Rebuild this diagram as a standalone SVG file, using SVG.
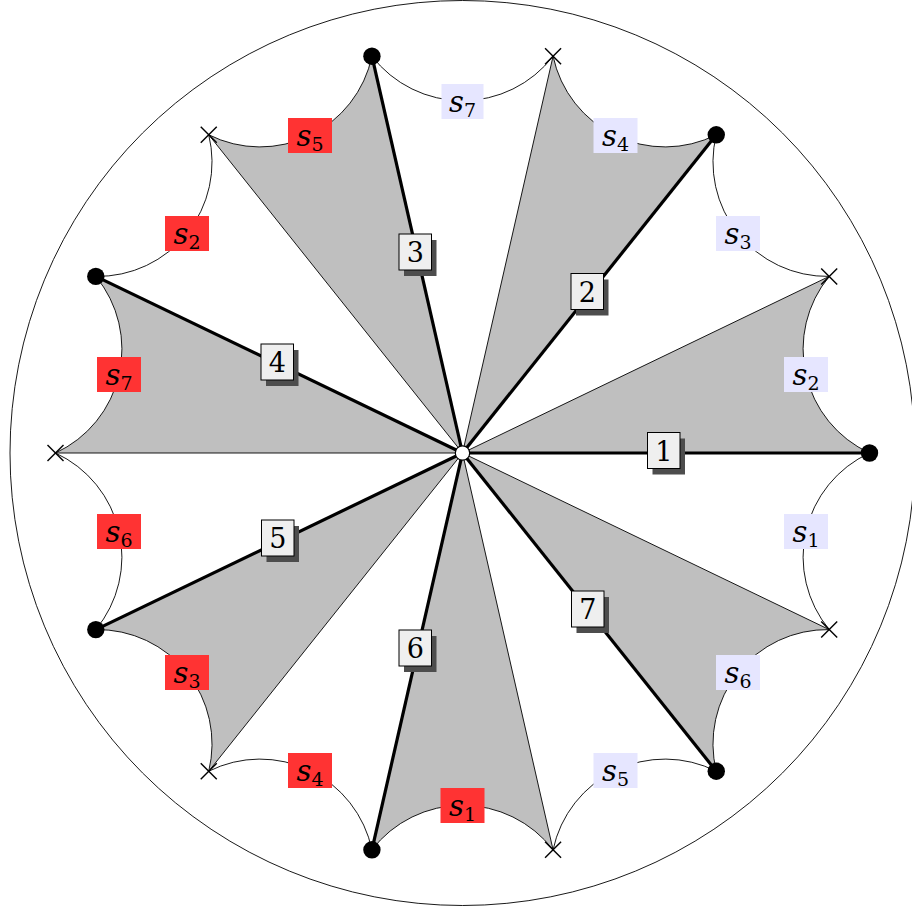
<svg xmlns="http://www.w3.org/2000/svg" width="912" height="911" viewBox="0 0 912 911">
<style>
.shade{fill:#bfbfbf;stroke:none}
.arc{fill:none;stroke:#000;stroke-width:0.9}
.thin{stroke:#000;stroke-width:0.9}
.thick{stroke:#000;stroke-width:3.2}
.dot{fill:#000}
.cross{stroke:#000;stroke-width:1.4}
.red{fill:#ff3333}
.blue{fill:#e6e6ff}
.lbl{font-family:"DejaVu Serif","Liberation Serif",serif;font-size:29px;fill:#000}
.lbl .s{font-style:italic}
.lbl .sub{font-size:19px;font-style:normal}
.nbox{fill:#efefef;stroke:#000;stroke-width:1}
.shadow{fill:#4d4d4d}
.num{font-family:"DejaVu Serif","Liberation Serif",serif;font-size:27px;fill:#000;text-anchor:middle}
</style>
<defs>
<g id="crossmark"><line class="cross" x1="-8" y1="-8" x2="8" y2="8"/><line class="cross" x1="-8" y1="8" x2="8" y2="-8"/></g>
</defs>
<rect width="912" height="911" fill="#fff"/>
<circle cx="462.5" cy="453" r="452.5" fill="none" stroke="#000" stroke-width="0.9"/>
<g id="regions">
<path class="shade" d="M462.5,453 L869.5,453 A114.4,114.4 0 0 1 829.19,276.41 Z"/>
<path class="shade" d="M462.5,453 L716.26,134.79 A114.4,114.4 0 0 1 553.07,56.2 Z"/>
<path class="shade" d="M462.5,453 L371.93,56.2 A114.4,114.4 0 0 1 208.74,134.79 Z"/>
<path class="shade" d="M462.5,453 L95.81,276.41 A114.4,114.4 0 0 1 55.5,453 Z"/>
<path class="shade" d="M462.5,453 L95.81,629.59 A114.4,114.4 0 0 1 208.74,771.21 Z"/>
<path class="shade" d="M462.5,453 L371.93,849.8 A114.4,114.4 0 0 1 553.07,849.8 Z"/>
<path class="shade" d="M462.5,453 L716.26,771.21 A114.4,114.4 0 0 1 829.19,629.59 Z"/>
</g>
<g id="connectors">
<path class="arc" d="M869.5,453 A114.4,114.4 0 0 1 829.19,276.41 A114.4,114.4 0 0 1 716.26,134.79 A114.4,114.4 0 0 1 553.07,56.2 A114.4,114.4 0 0 1 371.93,56.2 A114.4,114.4 0 0 1 208.74,134.79 A114.4,114.4 0 0 1 95.81,276.41 A114.4,114.4 0 0 1 55.5,453 A114.4,114.4 0 0 1 95.81,629.59 A114.4,114.4 0 0 1 208.74,771.21 A114.4,114.4 0 0 1 371.93,849.8 A114.4,114.4 0 0 1 553.07,849.8 A114.4,114.4 0 0 1 716.26,771.21 A114.4,114.4 0 0 1 829.19,629.59 A114.4,114.4 0 0 1 869.5,453"/>
<line class="thin" x1="462.5" y1="453" x2="829.19" y2="276.41"/>
<line class="thin" x1="462.5" y1="453" x2="553.07" y2="56.2"/>
<line class="thin" x1="462.5" y1="453" x2="208.74" y2="134.79"/>
<line class="thin" x1="462.5" y1="453" x2="55.5" y2="453"/>
<line class="thin" x1="462.5" y1="453" x2="208.74" y2="771.21"/>
<line class="thin" x1="462.5" y1="453" x2="553.07" y2="849.8"/>
<line class="thin" x1="462.5" y1="453" x2="829.19" y2="629.59"/>
<line class="thick" x1="462.5" y1="453" x2="869.5" y2="453"/>
<line class="thick" x1="462.5" y1="453" x2="716.26" y2="134.79"/>
<line class="thick" x1="462.5" y1="453" x2="371.93" y2="56.2"/>
<line class="thick" x1="462.5" y1="453" x2="95.81" y2="276.41"/>
<line class="thick" x1="462.5" y1="453" x2="95.81" y2="629.59"/>
<line class="thick" x1="462.5" y1="453" x2="371.93" y2="849.8"/>
<line class="thick" x1="462.5" y1="453" x2="716.26" y2="771.21"/>
</g>
<g id="edge-labels">
<g id="lb0"><rect class="blue" x="784" y="357" width="44" height="35"/><text class="lbl" x="806" y="385" text-anchor="middle"><tspan class="s">s</tspan><tspan class="sub" dy="5">2</tspan></text></g>
<g id="lb1"><rect class="blue" x="716" y="216" width="44" height="35"/><text class="lbl" x="738" y="244" text-anchor="middle"><tspan class="s">s</tspan><tspan class="sub" dy="5">3</tspan></text></g>
<g id="lb2"><rect class="blue" x="593.5" y="118" width="44" height="35"/><text class="lbl" x="615.5" y="146" text-anchor="middle"><tspan class="s">s</tspan><tspan class="sub" dy="5">4</tspan></text></g>
<g id="lb3"><rect class="blue" x="441.5" y="84" width="42" height="35"/><text class="lbl" x="462.5" y="112" text-anchor="middle"><tspan class="s">s</tspan><tspan class="sub" dy="5">7</tspan></text></g>
<g id="lb4"><rect class="red" x="288" y="118" width="44" height="35"/><text class="lbl" x="310" y="146" text-anchor="middle"><tspan class="s">s</tspan><tspan class="sub" dy="5">5</tspan></text></g>
<g id="lb5"><rect class="red" x="165" y="216" width="44" height="35"/><text class="lbl" x="187" y="244" text-anchor="middle"><tspan class="s">s</tspan><tspan class="sub" dy="5">2</tspan></text></g>
<g id="lb6"><rect class="red" x="97" y="357" width="44" height="35"/><text class="lbl" x="119" y="385" text-anchor="middle"><tspan class="s">s</tspan><tspan class="sub" dy="5">7</tspan></text></g>
<g id="lb7"><rect class="red" x="97" y="514" width="44" height="35"/><text class="lbl" x="119" y="542" text-anchor="middle"><tspan class="s">s</tspan><tspan class="sub" dy="5">6</tspan></text></g>
<g id="lb8"><rect class="red" x="165" y="655" width="44" height="35"/><text class="lbl" x="187" y="683" text-anchor="middle"><tspan class="s">s</tspan><tspan class="sub" dy="5">3</tspan></text></g>
<g id="lb9"><rect class="red" x="288" y="753" width="44" height="35"/><text class="lbl" x="310" y="781" text-anchor="middle"><tspan class="s">s</tspan><tspan class="sub" dy="5">4</tspan></text></g>
<g id="lb10"><rect class="red" x="440.5" y="788" width="44" height="35"/><text class="lbl" x="462.5" y="816" text-anchor="middle"><tspan class="s">s</tspan><tspan class="sub" dy="5">1</tspan></text></g>
<g id="lb11"><rect class="blue" x="593.5" y="753" width="44" height="35"/><text class="lbl" x="615.5" y="781" text-anchor="middle"><tspan class="s">s</tspan><tspan class="sub" dy="5">5</tspan></text></g>
<g id="lb12"><rect class="blue" x="716" y="655" width="44" height="35"/><text class="lbl" x="738" y="683" text-anchor="middle"><tspan class="s">s</tspan><tspan class="sub" dy="5">6</tspan></text></g>
<g id="lb13"><rect class="blue" x="784" y="514" width="44" height="35"/><text class="lbl" x="806" y="542" text-anchor="middle"><tspan class="s">s</tspan><tspan class="sub" dy="5">1</tspan></text></g>
</g>
<g id="number-labels">
<g id="n1"><rect class="shadow" x="652.5" y="438.5" width="32.5" height="36"/><rect class="nbox" x="647.5" y="432.5" width="32.5" height="36"/><text class="num" x="663.75" y="460.5">1</text></g>
<g id="n2"><rect class="shadow" x="576" y="279.5" width="32.5" height="36"/><rect class="nbox" x="571" y="273.5" width="32.5" height="36"/><text class="num" x="587.25" y="301.5">2</text></g>
<g id="n3"><rect class="shadow" x="404" y="240" width="32.5" height="36"/><rect class="nbox" x="399" y="234" width="32.5" height="36"/><text class="num" x="415.25" y="262">3</text></g>
<g id="n4"><rect class="shadow" x="266" y="350" width="32.5" height="36"/><rect class="nbox" x="261" y="344" width="32.5" height="36"/><text class="num" x="277.25" y="372">4</text></g>
<g id="n5"><rect class="shadow" x="266.5" y="526" width="32.5" height="36"/><rect class="nbox" x="261.5" y="520" width="32.5" height="36"/><text class="num" x="277.75" y="548">5</text></g>
<g id="n6"><rect class="shadow" x="404" y="636" width="32.5" height="36"/><rect class="nbox" x="399" y="630" width="32.5" height="36"/><text class="num" x="415.25" y="658">6</text></g>
<g id="n7"><rect class="shadow" x="576.5" y="597" width="32.5" height="36"/><rect class="nbox" x="571.5" y="591" width="32.5" height="36"/><text class="num" x="587.75" y="619">7</text></g>
</g>
<g id="vertices">
<g id="d0"><circle class="dot" cx="869.5" cy="453" r="8.7"/></g>
<g id="x1"><use href="#crossmark" x="829.19" y="276.41"/></g>
<g id="d2"><circle class="dot" cx="716.26" cy="134.79" r="8.7"/></g>
<g id="x3"><use href="#crossmark" x="553.07" y="56.2"/></g>
<g id="d4"><circle class="dot" cx="371.93" cy="56.2" r="8.7"/></g>
<g id="x5"><use href="#crossmark" x="208.74" y="134.79"/></g>
<g id="d6"><circle class="dot" cx="95.81" cy="276.41" r="8.7"/></g>
<g id="x7"><use href="#crossmark" x="55.5" y="453"/></g>
<g id="d8"><circle class="dot" cx="95.81" cy="629.59" r="8.7"/></g>
<g id="x9"><use href="#crossmark" x="208.74" y="771.21"/></g>
<g id="d10"><circle class="dot" cx="371.93" cy="849.8" r="8.7"/></g>
<g id="x11"><use href="#crossmark" x="553.07" y="849.8"/></g>
<g id="d12"><circle class="dot" cx="716.26" cy="771.21" r="8.7"/></g>
<g id="x13"><use href="#crossmark" x="829.19" y="629.59"/></g>
<g id="center"><circle cx="462.5" cy="453" r="7.2" fill="#fff" stroke="#000" stroke-width="1.2"/></g>
</g>
</svg>
